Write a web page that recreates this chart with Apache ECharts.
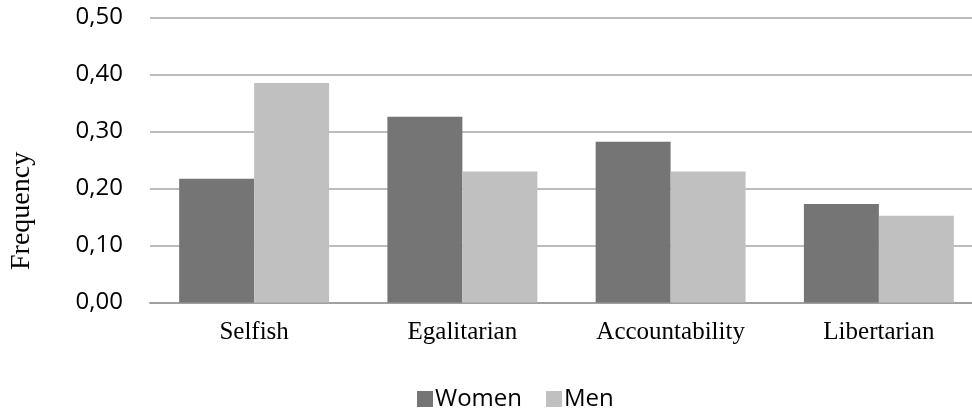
<!DOCTYPE html>
<html>
<head>
<meta charset="utf-8">
<script src="https://cdn.jsdelivr.net/npm/echarts@6/dist/echarts.min.js"></script>
<style>
html,body{margin:0;padding:0;background:#fff;}
#chart{width:972px;height:417px;}
</style>
</head>
<body>
<div id="chart"></div>
<script>
var categories = ['Selfish', 'Egalitarian', 'Accountability', 'Libertarian'];
var women = [0.217, 0.326, 0.282, 0.173];
var men = [0.385, 0.230, 0.230, 0.152];
var yTicks = [0, 0.1, 0.2, 0.3, 0.4, 0.5];

var chart = echarts.init(document.getElementById('chart'));
chart.setOption({
  animation: false,
  backgroundColor: '#ffffff',
  grid: { left: 150, top: 17.5, width: 833, height: 285, outerBoundsMode: 'none', containLabel: false },
  legend: {
    bottom: 1,
    left: 412,
    itemWidth: 16,
    itemHeight: 16,
    itemGap: 24,
    icon: 'rect',
    textStyle: { fontFamily: 'Open Sans', fontSize: 24, color: '#000', padding: [0,0,0,-3] },
    data: ['Women', 'Men']
  },
  xAxis: {
    type: 'category',
    data: categories,
    axisTick: { show: false },
    axisLine: { lineStyle: { color: '#a0a0a0', width: 2 } },
    axisLabel: { fontFamily: 'Liberation Serif', fontSize: 25, color: '#000', margin: 17 }
  },
  yAxis: {
    type: 'value',
    min: 0,
    max: 0.5,
    interval: 0.1,
    axisLine: { show: false },
    axisTick: { show: false },
    splitLine: { lineStyle: { color: '#a6a6a6', width: 1.5 } },
    axisLabel: {
      fontFamily: 'Open Sans', fontSize: 24, color: '#000', margin: 27,
      formatter: function (v) { return v.toFixed(2).replace('.', ','); }
    }
  },
  graphic: [{
    type: 'text',
    x: 8,
    y: 270,
    rotation: Math.PI / 2,
    style: { text: 'Frequency', fontFamily: 'Liberation Serif', fontSize: 28, fill: '#000', textAlign: 'left', textVerticalAlign: 'top' }
  }],
  series: [
    { name: 'Women', type: 'bar', data: women, barGap: '0%', barCategoryGap: '28%', itemStyle: { color: '#757575' } },
    { name: 'Men', type: 'bar', data: men, barGap: '0%', barCategoryGap: '28%', itemStyle: { color: '#c0c0c0' } }
  ]
});
</script>
</body>
</html>
